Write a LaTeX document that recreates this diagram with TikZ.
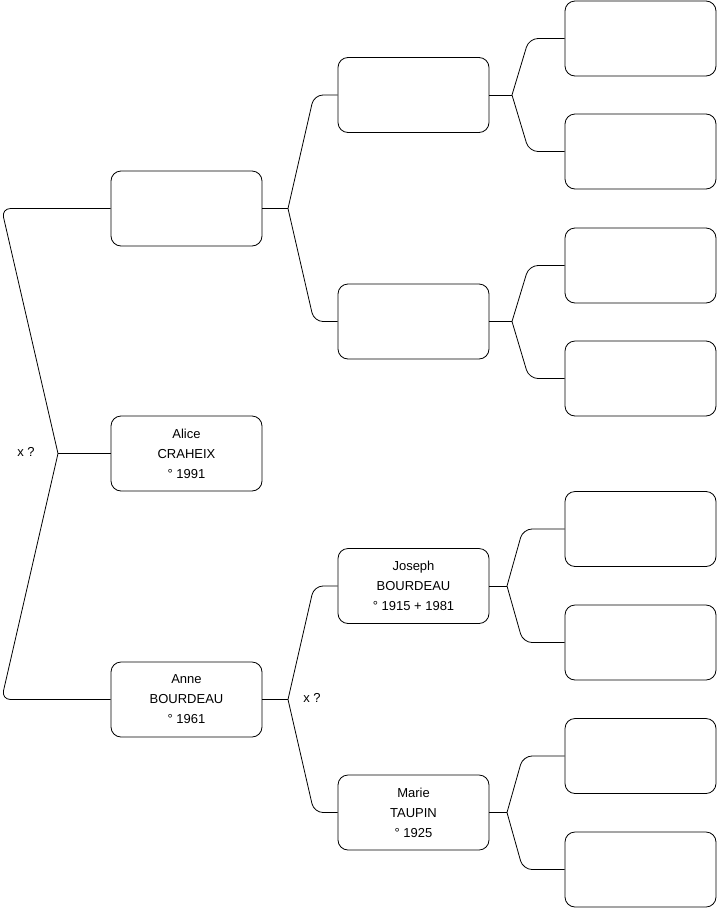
\documentclass[tikz,border=0pt]{standalone}
\usepackage{fontspec}
\setmainfont{Liberation Sans}

\begin{document}
\begin{tikzpicture}[x=1pt, y=-1pt,
    person/.style={draw, rounded corners=10pt, minimum width=151pt,
                   minimum height=75pt, inner sep=0pt, align=center,
                   line width=0.8pt, font=\fontsize{13}{20}\selectfont},
    link/.style={line width=0.8pt, rounded corners=9pt},
    stem/.style={line width=0.8pt}]
    \useasboundingbox (0,0) rectangle (716,908);

    % generation 1
    \node[person] (father) at (186.5,208.5) {};
    \node[person] (alice)  at (186.5,453.5) {Alice\\CRAHEIX\\° 1991};
    \node[person] (anne)   at (186.5,699.5) {Anne\\BOURDEAU\\° 1961};

    % generation 2
    \node[person] (ff)     at (413.5,95)  {};
    \node[person] (fm)     at (413.5,321.5) {};
    \node[person] (joseph) at (413.5,586) {Joseph\\BOURDEAU\\° 1915 + 1981};
    \node[person] (marie)  at (413.5,812.5) {Marie\\TAUPIN\\° 1925};

    % generation 3
    \node[person] (g1) at (640.5,38.5)  {};
    \node[person] (g2) at (640.5,151.5) {};
    \node[person] (g3) at (640.5,265.5) {};
    \node[person] (g4) at (640.5,378.5) {};
    \node[person] (g5) at (640.5,529)   {};
    \node[person] (g6) at (640.5,642.5) {};
    \node[person] (g7) at (640.5,756)   {};
    \node[person] (g8) at (640.5,869.5) {};

    % forks
    \coordinate (j0) at (58,453.5);
    \coordinate (j1) at (288,208.5);
    \coordinate (j2) at (288,699.5);
    \coordinate (j3) at (512,95);
    \coordinate (j4) at (512,321.5);
    \coordinate (j5) at (507,586);
    \coordinate (j6) at (507,812.5);

    \draw[stem] (alice.west) -- (j0);
    \draw[link] (j0) -- (1.5,208.5) -- (father.west);
    \draw[link] (j0) -- (1.5,699.5) -- (anne.west);

    \draw[stem] (father.east) -- (j1);
    \draw[link] (j1) -- (314,95) -- (ff.west);
    \draw[link] (j1) -- (314,321.5) -- (fm.west);

    \draw[stem] (anne.east) -- (j2);
    \draw[link] (j2) -- (314,586) -- (joseph.west);
    \draw[link] (j2) -- (314,812.5) -- (marie.west);

    \draw[stem] (ff.east) -- (j3);
    \draw[link] (j3) -- (529,38.5) -- (g1.west);
    \draw[link] (j3) -- (529,151.5) -- (g2.west);

    \draw[stem] (fm.east) -- (j4);
    \draw[link] (j4) -- (529,265.5) -- (g3.west);
    \draw[link] (j4) -- (529,378.5) -- (g4.west);

    \draw[stem] (joseph.east) -- (j5);
    \draw[link] (j5) -- (523,529) -- (g5.west);
    \draw[link] (j5) -- (523,642.5) -- (g6.west);

    \draw[stem] (marie.east) -- (j6);
    \draw[link] (j6) -- (523,756) -- (g7.west);
    \draw[link] (j6) -- (523,869.5) -- (g8.west);

    % unions
    \node[font=\fontsize{13}{15}\selectfont] (u1) at (26,452) {x ?};
    \node[font=\fontsize{13}{15}\selectfont] (u2) at (312,698) {x ?};
\end{tikzpicture}
\end{document}
